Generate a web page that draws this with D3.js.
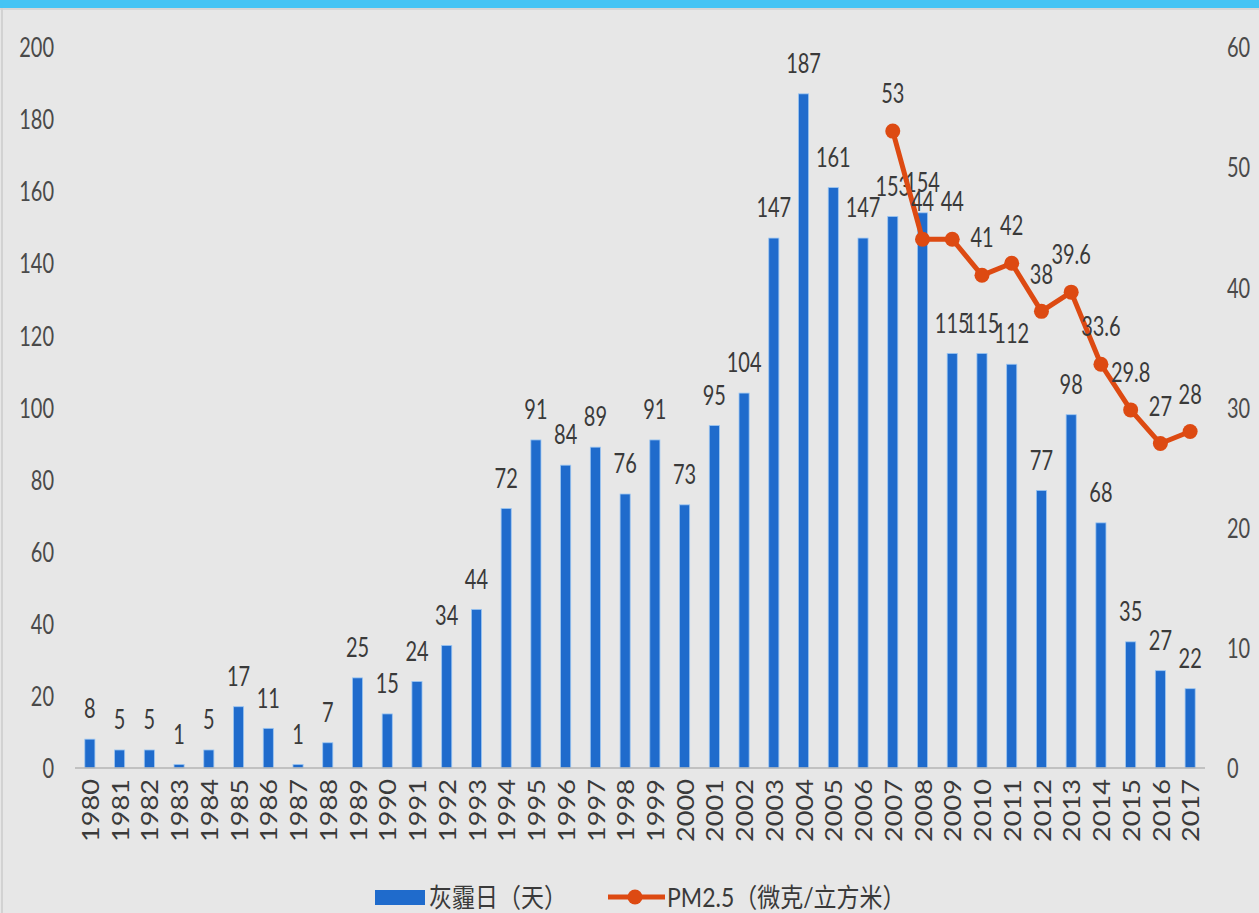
<!DOCTYPE html>
<html>
<head>
<meta charset="utf-8">
<script src="https://cdn.jsdelivr.net/npm/d3@7/dist/d3.min.js"></script>
<style>
  html, body { margin: 0; padding: 0; background: #e7e7e7; }
  svg { display: block; }
  text { font-family: Lato, "Noto Sans CJK SC", sans-serif; fill: #3a3a3a; }
</style>
</head>
<body>
<svg id="chart" width="1259" height="913"></svg>
<script>
// Haze days per year (bars, left axis)
const years = ["1980","1981","1982","1983","1984","1985","1986","1987","1988","1989",
  "1990","1991","1992","1993","1994","1995","1996","1997","1998","1999",
  "2000","2001","2002","2003","2004","2005","2006","2007","2008","2009",
  "2010","2011","2012","2013","2014","2015","2016","2017"];
const hazeDays = [8,5,5,1,5,17,11,1,7,25,
  15,24,34,44,72,91,84,89,76,91,
  73,95,104,147,187,161,147,153,154,115,
  115,112,77,98,68,35,27,22];

// PM2.5 annual mean (line, right axis)
const pmYears = ["2007","2008","2009","2010","2011","2012","2013","2014","2015","2016","2017"];
const pmValues = [53,44,44,41,42,38,39.6,33.6,29.8,27,28];

const leftTicks = [0,20,40,60,80,100,120,140,160,180,200];
const rightTicks = [0,10,20,30,40,50,60];

const seriesNames = ["灰霾日（天）", "PM2.5（微克/立方米）"];

const barColor = "#1f6bcc";
const lineColor = "#dd4a12";
const SY = 1.33; // vertical stretch applied to text glyphs

const svg = d3.select("#chart");

// frame: top band and left edge
svg.append("rect").attr("x",0).attr("y",0).attr("width",1259).attr("height",913).attr("fill","#e7e7e7");
svg.append("rect").attr("x",0).attr("y",0).attr("width",1259).attr("height",8).attr("fill","#45c4f4");
svg.append("rect").attr("x",0).attr("y",8).attr("width",1259).attr("height",2).attr("fill","#d6d6d6");
svg.append("rect").attr("x",1).attr("y",8).attr("width",2).attr("height",905).attr("fill","#d2d2d2");

const x = d3.scaleBand().domain(years).range([75,1205]).paddingInner(0.66).paddingOuter(0.33);
const yL = d3.scaleLinear().domain([0,200]).range([768,47]);
const yR = d3.scaleLinear().domain([0,60]).range([768,47]);

function label(g, tx, ty, txt, opts = {}) {
  const sy = opts.sy || SY;
  const t = g.append("text")
    .attr("transform", `translate(${tx},${ty}) scale(1,${sy})` + (opts.rotate ? ` rotate(${opts.rotate})` : ""))
    .attr("text-anchor", opts.anchor || "middle")
    .attr("dominant-baseline", opts.baseline || "central")
    .style("font-size", (opts.size || 20) + "px")
    .text(txt);
  if (opts.fill) t.style("fill", opts.fill);
  return t;
}

// left axis tick labels
const gL = svg.append("g");
leftTicks.forEach(v => label(gL, 54, yL(v), v, {anchor: "end", fill: "#4a4a4a"}));

// right axis tick labels
const gR = svg.append("g");
rightTicks.forEach(v => label(gR, 1227, yR(v), v, {anchor: "start", fill: "#4a4a4a"}));

// bars
const bw = x.bandwidth();
svg.append("g").selectAll("rect").data(years).join("rect")
  .attr("x", d => x(d))
  .attr("y", (d,i) => yL(hazeDays[i]))
  .attr("width", bw)
  .attr("height", (d,i) => yL(0) - yL(hazeDays[i]))
  .attr("fill", barColor)
  .attr("stroke", "#9cc6f2")
  .attr("stroke-width", 0.8);

// x axis baseline
svg.append("line").attr("x1",75).attr("x2",1205).attr("y1",768).attr("y2",768)
  .attr("stroke","#b4b4b4").attr("stroke-width",1.5);

// year labels, rotated
const gX = svg.append("g");
years.forEach(yr => label(gX, x(yr) + bw/2, 779, yr, {anchor: "end", rotate: -90, size: 23, sy: 1.18}));

// bar value labels
const gBL = svg.append("g");
years.forEach((yr,i) => label(gBL, x(yr) + bw/2, yL(hazeDays[i]) - 31, hazeDays[i]));

// PM2.5 line
const line = d3.line().x((d,i) => x(pmYears[i]) + bw/2).y(d => yR(d));
svg.append("path").datum(pmValues).attr("d", line)
  .attr("fill","none").attr("stroke",lineColor).attr("stroke-width",5).attr("stroke-linejoin","round");
svg.append("g").selectAll("circle").data(pmValues).join("circle")
  .attr("cx", (d,i) => x(pmYears[i]) + bw/2)
  .attr("cy", d => yR(d))
  .attr("r", 7.5)
  .attr("fill", lineColor);

// PM2.5 value labels
const gPL = svg.append("g");
pmValues.forEach((v,i) => label(gPL, x(pmYears[i]) + bw/2, yR(v) - 38, v));

// legend
const lg = svg.append("g");
lg.append("rect").attr("x",375).attr("y",890).attr("width",50).attr("height",15).attr("fill",barColor);
label(lg, 429, 897, seriesNames[0], {anchor: "start", size: 23, sy: 1.15});
lg.append("line").attr("x1",608).attr("x2",665).attr("y1",897).attr("y2",897)
  .attr("stroke",lineColor).attr("stroke-width",5);
lg.append("circle").attr("cx",635).attr("cy",897).attr("r",7.5).attr("fill",lineColor);
label(lg, 667, 897, seriesNames[1], {anchor: "start", size: 23, sy: 1.15});
</script>
</body>
</html>
